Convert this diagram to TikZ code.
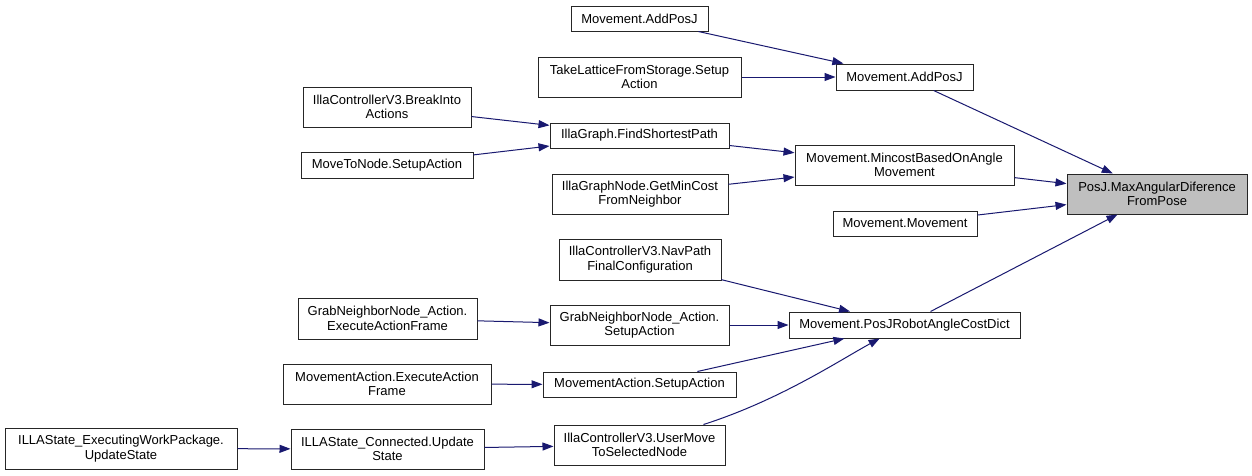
\documentclass[tikz,border=0pt]{standalone}
\usepackage{fontspec}
\setmainfont{Liberation Sans}
\usetikzlibrary{arrows.meta}
\definecolor{edgeblue}{HTML}{191970}
\definecolor{hlgray}{HTML}{BFBFBF}
\begin{document}
\begin{tikzpicture}[x=1pt,y=-1pt,
  fn/.style={draw=black!85,line width=1pt,fill=white,inner sep=0pt,align=center,
    font=\fontsize{13}{14.5}\selectfont},
  hl/.style={fn,fill=hlgray},
  call/.style={draw=edgeblue,line width=1pt,-{Triangle[length=11pt,width=8pt]},edgeblue}]
\useasboundingbox (0,0) rectangle (1252,475);
\fill[white] (0,0) rectangle (1252,475);

\node[fn,minimum width=137,minimum height=25] (a1) at (639.5,18.5) {Movement.AddPosJ};
\node[fn,minimum width=203,minimum height=40] (tl) at (639.5,77) {TakeLatticeFromStorage.Setup\\Action};
\node[fn,minimum width=137,minimum height=26] (a2) at (904.5,77) {Movement.AddPosJ};
\node[fn,minimum width=168,minimum height=40] (bi) at (387,107) {IllaControllerV3.BreakInto\\Actions};
\node[fn,minimum width=172,minimum height=26] (mn) at (387,165) {MoveToNode.SetupAction};
\node[fn,minimum width=179,minimum height=25] (fs) at (639.5,135.5) {IllaGraph.FindShortestPath};
\node[fn,minimum width=219,minimum height=40] (mc) at (904.5,165) {Movement.MincostBasedOnAngle\\Movement};
\node[fn,minimum width=176,minimum height=40] (gm) at (640,194) {IllaGraphNode.GetMinCost\\FromNeighbor};
\node[hl,minimum width=180,minimum height=40] (pj) at (1157,194) {PosJ.MaxAngularDiference\\FromPose};
\node[fn,minimum width=144,minimum height=25] (mm) at (905,223.5) {Movement.Movement};
\node[fn,minimum width=162,minimum height=41] (np) at (640,259.5) {IllaControllerV3.NavPath\\FinalConfiguration};
\node[fn,minimum width=179,minimum height=41] (ge) at (387.5,318.5) {GrabNeighborNode\_Action.\\ExecuteActionFrame};
\node[fn,minimum width=179,minimum height=40] (gs) at (639.5,325) {GrabNeighborNode\_Action.\\SetupAction};
\node[fn,minimum width=231,minimum height=26] (pr) at (904.5,325) {Movement.PosJRobotAngleCostDict};
\node[fn,minimum width=208,minimum height=40] (me) at (387,384) {MovementAction.ExecuteAction\\Frame};
\node[fn,minimum width=193,minimum height=25] (ms) at (639.5,384.5) {MovementAction.SetupAction};
\node[fn,minimum width=232,minimum height=41] (ie) at (121,448.5) {ILLAState\_ExecutingWorkPackage.\\UpdateState};
\node[fn,minimum width=193,minimum height=40] (ic) at (387.5,449) {ILLAState\_Connected.Update\\State};
\node[fn,minimum width=171,minimum height=40] (um) at (639.5,445) {IllaControllerV3.UserMove\\ToSelectedNode};

\draw[call] (a1) -- (a2);
\draw[call] (tl) -- (a2);
\draw[call] (a2) -- (pj);
\draw[call] (bi) -- (fs);
\draw[call] (mn) -- (fs);
\draw[call] (fs) -- (mc);
\draw[call] (gm) -- (mc);
\draw[call] (mc) -- (pj);
\draw[call] (mm) -- (pj);
\draw[call] (pr) -- (pj);
\draw[call] (np) -- (pr);
\draw[call] (gs) -- (pr);
\draw[call] (ge) -- (gs);
\draw[call] (ms) -- (pr);
\draw[call] (me) -- (ms);
\draw[call] (um) .. controls (780,400) and (840,360) .. (pr);
\draw[call] (ic) -- (um);
\draw[call] (ie) -- (ic);
\end{tikzpicture}
\end{document}
